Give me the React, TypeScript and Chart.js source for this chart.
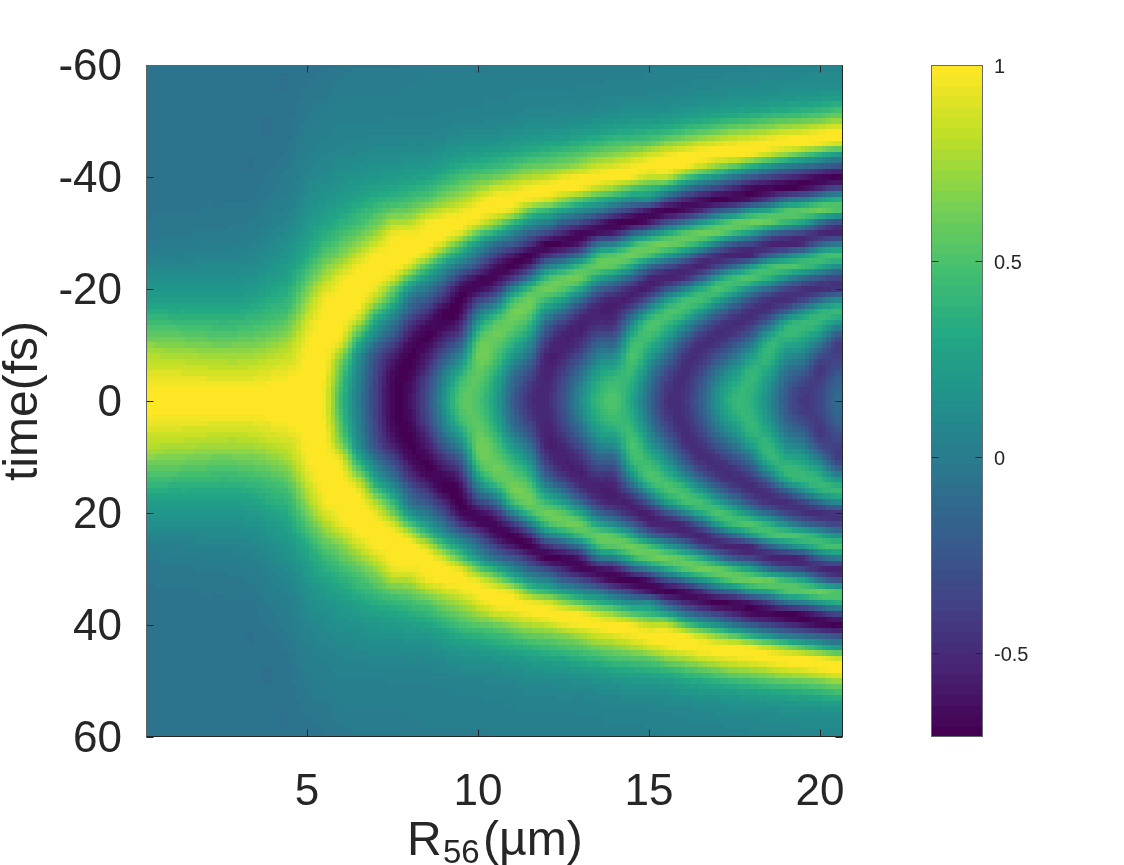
import React, { useEffect, useRef } from "react";
import Chart from "chart.js/auto";

const FONT = "'Liberation Sans', Arial, sans-serif";
const INK = "#262626";

const r56Values = [0.5,1,1.5,2,2.5,3,3.5,4,4.5,5,5.5,6,6.5,7,7.5,8,8.5,9,9.5,10,10.5,11,11.5,12,12.5,13,13.5,14,14.5,15,15.5,16,16.5,17,17.5,18,18.5,19,19.5,20,20.5];
const timeOffsets = [0,2,4,6,8,10,12,14,16,18,20,22,24,26,28,30,32,34,36,38,40,42,44,46,48,50,52,54,56,58,60];
const xTicks = [5, 10, 15, 20];
const yTicks = [-60, -40, -20, 0, 20, 40, 60];
const colorbarTicks = [1, 0.5, 0, -0.5];
const viridisStops = ["#440154","#482475","#414487","#355f8d","#2a788e","#21918c","#22a884","#44bf70","#7ad151","#bddf26","#fde725"];

// one profile per R56 column, read at |t| = 0, 2, ... 60 fs (the picture is mirrored about t = 0)
const profiles = [
[1,1,.93,.86,.79,.68,.56,.45,.34,.24,.18,.12,.07,.02,-.01,-.03,-.04,-.05,-.06,-.07,-.07,-.07,-.07,-.07,-.07,-.07,-.07,-.07,-.07,-.07,-.07],
[1,1,.93,.86,.78,.67,.55,.44,.33,.24,.18,.12,.08,.03,0,-.02,-.03,-.05,-.06,-.07,-.07,-.07,-.07,-.07,-.07,-.07,-.07,-.07,-.07,-.07,-.07],
[1,1,.93,.85,.77,.65,.54,.43,.33,.24,.18,.13,.08,.04,0,-.02,-.03,-.05,-.06,-.07,-.07,-.07,-.07,-.07,-.07,-.07,-.07,-.07,-.07,-.07,-.07],
[1,1,.92,.84,.75,.63,.52,.42,.32,.24,.18,.13,.09,.05,.01,-.01,-.03,-.04,-.05,-.06,-.07,-.07,-.07,-.07,-.07,-.07,-.07,-.07,-.07,-.07,-.07],
[1,1,.91,.83,.74,.62,.51,.41,.32,.25,.18,.13,.09,.05,.02,-.01,-.03,-.04,-.05,-.06,-.07,-.07,-.07,-.07,-.07,-.07,-.07,-.07,-.07,-.07,-.07],
[1,1,.91,.83,.74,.63,.52,.42,.33,.25,.19,.14,.1,.06,.02,0,-.02,-.03,-.05,-.06,-.07,-.07,-.07,-.07,-.07,-.07,-.07,-.07,-.07,-.07,-.07],
[1,1,.92,.85,.76,.65,.55,.45,.36,.28,.21,.16,.12,.08,.05,.02,-.01,-.02,-.04,-.05,-.06,-.07,-.07,-.07,-.07,-.07,-.07,-.07,-.07,-.07,-.07],
[1,1,.95,.89,.81,.71,.6,.5,.42,.35,.28,.22,.17,.13,.1,.07,.04,.02,0,-.02,-.03,-.05,-.06,-.06,-.07,-.07,-.07,-.07,-.07,-.07,-.07],
[1,1,.98,.92,.86,.8,.7,.6,.5,.42,.36,.3,.24,.19,.15,.11,.08,.05,.03,.01,0,-.01,-.03,-.04,-.05,-.05,-.06,-.06,-.07,-.07,-.07],
[1,1,1,1,.99,.97,.93,.88,.8,.72,.63,.52,.42,.33,.27,.22,.18,.15,.12,.09,.07,.05,.03,.02,.01,-.01,-.02,-.03,-.04,-.05,-.06],
[.95,.96,.98,1,1,1,1,1,.98,.95,.88,.76,.64,.52,.42,.34,.27,.21,.16,.13,.1,.08,.06,.04,.03,.01,0,-.02,-.03,-.04,-.05],
[.42,.45,.5,.56,.68,.87,.96,1,1,1,.98,.93,.8,.66,.55,.44,.36,.28,.22,.17,.14,.11,.08,.06,.05,.03,.02,.01,0,-.02,-.03],
[0,.01,.04,.08,.14,.3,.52,.76,.94,1,1,1,.96,.84,.7,.57,.46,.37,.28,.22,.16,.12,.09,.07,.05,.03,.02,.01,0,-.01,-.02],
[-.38,-.38,-.36,-.33,-.27,-.1,.1,.28,.5,.78,.92,1,1,.98,.86,.72,.58,.46,.35,.26,.19,.15,.11,.08,.05,.03,.02,.01,0,-.01,-.02],
[-.68,-.68,-.66,-.62,-.55,-.38,-.2,-.02,.18,.42,.62,.88,1,1,.98,.92,.76,.56,.4,.29,.21,.15,.11,.08,.06,.04,.02,.01,0,-.01,-.02],
[-.62,-.64,-.67,-.7,-.7,-.66,-.55,-.4,-.2,-.05,.17,.5,.85,1,1,.96,.8,.6,.46,.34,.25,.18,.13,.09,.06,.04,.03,.02,.01,0,-.01],
[-.3,-.32,-.38,-.48,-.58,-.66,-.7,-.62,-.43,-.25,-.03,.2,.5,.85,1,.98,.95,.74,.54,.39,.28,.19,.13,.09,.06,.04,.03,.02,.01,.01,0],
[.15,.12,.04,-.08,-.24,-.42,-.58,-.68,-.7,-.5,-.32,-.07,.18,.5,.85,1,.99,.85,.66,.5,.36,.24,.17,.11,.07,.05,.03,.02,.01,.01,0],
[.53,.5,.42,.27,.08,-.13,-.34,-.52,-.64,-.7,-.66,-.43,-.08,.22,.52,.9,1,.93,.76,.62,.47,.33,.21,.14,.09,.06,.04,.02,.01,.01,0],
[.5,.52,.55,.58,.6,.55,.4,.18,-.08,-.38,-.64,-.64,-.32,-.06,.2,.58,.92,1,.9,.72,.54,.37,.24,.16,.1,.06,.04,.03,.02,.01,0],
[.25,.27,.33,.42,.5,.56,.6,.52,.26,-.12,-.47,-.67,-.62,-.36,-.08,.34,.72,.98,1,.84,.6,.42,.28,.17,.11,.07,.05,.03,.02,.01,.01],
[-.18,-.15,-.08,.04,.2,.36,.5,.58,.6,.43,.03,-.43,-.69,-.58,-.22,.08,.45,.9,1,.9,.7,.48,.33,.2,.13,.08,.05,.04,.03,.02,.01],
[-.47,-.44,-.36,-.24,-.08,.08,.26,.43,.56,.6,.43,-.02,-.49,-.7,-.46,-.16,.18,.58,.95,.97,.78,.57,.38,.24,.15,.1,.07,.05,.03,.02,.01],
[-.5,-.51,-.53,-.55,-.53,-.44,-.3,-.1,.15,.42,.6,.43,0,-.48,-.7,-.32,.04,.42,.88,1,.82,.6,.43,.28,.17,.11,.07,.05,.03,.02,.01],
[-.27,-.29,-.34,-.42,-.5,-.55,-.53,-.38,-.1,.22,.52,.59,.2,-.3,-.68,-.52,-.18,.26,.7,1,.92,.66,.48,.3,.18,.11,.08,.05,.03,.02,.01],
[.12,.08,-.02,-.15,-.3,-.44,-.53,-.55,-.42,-.12,.28,.58,.45,-.05,-.55,-.68,-.32,.1,.52,.96,.98,.74,.54,.37,.22,.13,.08,.05,.04,.02,.02],
[.42,.38,.3,.18,.02,-.16,-.34,-.5,-.55,-.44,-.14,.28,.58,.42,-.08,-.62,-.52,-.02,.38,.82,1,.84,.62,.42,.25,.15,.09,.06,.04,.03,.02],
[.5,.48,.42,.3,.13,-.08,-.28,-.45,-.53,-.54,-.32,.08,.52,.54,.05,-.55,-.68,-.22,.25,.7,1,.9,.68,.48,.3,.17,.11,.07,.05,.03,.02],
[.28,.31,.38,.46,.5,.45,.3,.06,-.24,-.52,-.52,-.2,.28,.6,.38,-.22,-.7,-.4,.1,.54,.96,.96,.76,.52,.33,.2,.12,.07,.05,.03,.03],
[-.12,-.09,-.01,.1,.24,.38,.48,.49,.2,-.22,-.54,-.5,-.1,.48,.57,.04,-.6,-.6,.1,.42,.82,1,.85,.56,.36,.2,.12,.08,.05,.04,.03],
[-.45,-.43,-.36,-.24,-.08,.1,.28,.45,.48,.2,-.28,-.55,-.3,.25,.6,.28,-.32,-.7,-.25,.28,.82,1,.93,.68,.4,.24,.14,.09,.06,.05,.04],
[-.46,-.47,-.48,-.48,-.42,-.28,-.06,.22,.46,.44,.02,-.48,-.46,.02,.52,.5,-.1,-.66,-.48,0,.55,.98,.99,.75,.48,.28,.17,.1,.07,.05,.04],
[-.2,-.23,-.3,-.39,-.46,-.48,-.37,-.12,.2,.47,.32,-.2,-.54,-.3,.34,.6,.15,-.5,-.62,-.2,.32,.85,1,.84,.55,.33,.2,.12,.08,.06,.05],
[.16,.13,.03,-.1,-.27,-.42,-.48,-.38,-.1,.26,.5,.22,-.36,-.48,.02,.58,.38,-.25,-.7,-.35,.15,.7,1,.9,.62,.38,.22,.13,.09,.06,.05],
[.4,.37,.27,.13,-.05,-.25,-.42,-.48,-.34,-.02,.36,.45,-.1,-.55,-.25,.42,.55,-.1,-.66,-.5,-.05,.55,1,.94,.7,.43,.25,.15,.1,.07,.05],
[.37,.39,.42,.38,.24,.02,-.22,-.42,-.48,-.3,.1,.5,.2,-.5,-.36,.22,.6,.18,-.58,-.66,-.22,.35,.95,.97,.74,.47,.27,.16,.1,.07,.06],
[.1,.13,.2,.31,.41,.41,.2,-.15,-.42,-.46,-.14,.36,.45,-.2,-.52,-.08,.58,.3,-.38,-.68,-.35,.18,.82,1,.8,.52,.3,.17,.11,.08,.06],
[-.23,-.2,-.12,0,.14,.3,.42,.3,-.18,-.48,-.34,.12,.5,.02,-.55,-.24,.42,.5,-.1,-.7,-.46,.02,.68,1,.86,.57,.33,.19,.12,.08,.06],
[-.42,-.4,-.3,-.15,.02,.2,.36,.42,.14,-.34,-.46,-.1,.46,.22,-.48,-.36,.28,.55,.02,-.66,-.58,-.08,.52,1,.9,.6,.36,.2,.12,.09,.07],
[-.34,-.36,-.41,-.42,-.3,-.07,.2,.4,.36,-.1,-.48,-.25,.32,.42,-.18,-.5,-.05,.6,.2,-.5,-.66,-.16,.36,.95,.96,.65,.4,.22,.13,.09,.07],
[-.1,-.13,-.2,-.3,-.39,-.41,-.2,.18,.42,.1,-.42,-.36,.12,.49,0,-.55,-.28,.5,.34,-.35,-.7,-.28,.22,.85,1,.72,.47,.25,.14,.1,.07],
];

const V_MIN = -0.714;
const V_MAX = 1;
const LEVELS = 64;

function hexToRgb(h: string) {
  return [1, 3, 5].map((i) => parseInt(h.slice(i, i + 2), 16));
}
const palette: number[][] = Array.from({ length: LEVELS }, (_, i) => {
  const f = (i / (LEVELS - 1)) * (viridisStops.length - 1);
  const a = Math.min(Math.floor(f), viridisStops.length - 2);
  const u = f - a;
  const p = hexToRgb(viridisStops[a]);
  const q = hexToRgb(viridisStops[a + 1]);
  return p.map((c, k) => Math.round(c + (q[k] - c) * u));
});

const timeValues = [...timeOffsets.slice(1).reverse().map((t) => -t), ...timeOffsets];
const cells = r56Values.flatMap((r, c) =>
  timeValues.map((t) => ({ x: r, y: t, v: profiles[c][Math.abs(t) / 2] }))
);

function level(v: number) {
  const i = Math.floor(((v - V_MIN) / (V_MAX - V_MIN)) * LEVELS);
  return Math.max(0, Math.min(LEVELS - 1, i));
}

// Catmull-Rom weights for the canvas shading between table cells
function weights(u: number) {
  const u2 = u * u;
  const u3 = u2 * u;
  return [
    0.5 * (-u3 + 2 * u2 - u),
    0.5 * (3 * u3 - 5 * u2 + 2),
    0.5 * (-3 * u3 + 4 * u2 + u),
    0.5 * (u3 - u2),
  ];
}

// paints the table with smooth shading between its cells, placed through the chart's scales
const heatmapPlugin = {
  id: "heatmap",
  beforeDatasetsDraw(chart: any) {
    const { ctx, chartArea: a, scales } = chart;
    const w = Math.round(a.right - a.left);
    const h = Math.round(a.bottom - a.top);
    const off = document.createElement("canvas");
    off.width = w;
    off.height = h;
    const octx = off.getContext("2d")!;
    const img = octx.createImageData(w, h);
    const data = chart.data.datasets[0].data;
    const nR = r56Values.length;
    const nT = timeValues.length;
    const r0 = r56Values[0];
    const dr = r56Values[1] - r56Values[0];
    const t0 = timeValues[0];
    const dt = timeValues[1] - timeValues[0];
    const clampI = (i: number, n: number) => Math.max(0, Math.min(n - 1, i));
    for (let py = 0; py < h; py++) {
      const t = Math.round(scales.y.getValueForPixel(a.top + py + 0.5));
      const ft = Math.max(0, Math.min(nT - 1.001, (t - t0) / dt));
      const it = Math.floor(ft);
      const wt = weights(ft - it);
      for (let px = 0; px < w; px++) {
        const r = Math.round(scales.x.getValueForPixel(a.left + px + 0.5) * 8) / 8;
        const fr = Math.max(0, Math.min(nR - 1.001, (r - r0) / dr));
        const ir = Math.floor(fr);
        const wr = weights(fr - ir);
        let v = 0;
        for (let i = 0; i < 4; i++) {
          const col = clampI(ir + i - 1, nR);
          for (let j = 0; j < 4; j++) {
            v += wr[i] * wt[j] * data[col * nT + clampI(it + j - 1, nT)].v;
          }
        }
        const rgb = palette[level(v)];
        const o = (py * w + px) * 4;
        img.data[o] = rgb[0];
        img.data[o + 1] = rgb[1];
        img.data[o + 2] = rgb[2];
        img.data[o + 3] = 255;
      }
    }
    octx.putImageData(img, 0, 0);
    ctx.drawImage(off, a.left, a.top);
  },
};

function line(ctx: any, x1: number, y1: number, x2: number, y2: number) {
  ctx.beginPath();
  ctx.moveTo(x1, y1);
  ctx.lineTo(x2, y2);
  ctx.stroke();
}

const frameAxisPlugin = {
  id: "frameAxis",
  afterDraw(chart: any) {
    const { ctx, chartArea: a, scales } = chart;
    const L = Math.round(a.left) + 0.5;
    const R = Math.round(a.right) - 0.5;
    const T = Math.round(a.top) + 0.5;
    const B = Math.round(a.bottom) - 0.5;
    ctx.save();
    ctx.lineWidth = 1;
    ctx.strokeStyle = INK;
    xTicks.forEach((v) => {
      const x = Math.round(scales.x.getPixelForValue(v)) + 0.5;
      line(ctx, x, T, x, T + 7);
      line(ctx, x, B, x, B - 7);
    });
    yTicks.forEach((v) => {
      const y = Math.round(scales.y.getPixelForValue(v)) + 0.5;
      line(ctx, L, y, L + 7, y);
      line(ctx, R, y, R - 7, y);
    });
    ctx.strokeStyle = "#5f6367";
    line(ctx, L, T, R, T);
    line(ctx, L, T, L, B);
    ctx.strokeStyle = INK;
    line(ctx, R, T, R, B);
    line(ctx, L, B, R, B);

    // x-axis title with a true subscript
    ctx.fillStyle = INK;
    ctx.textBaseline = "alphabetic";
    ctx.textAlign = "left";
    ctx.font = `48px ${FONT}`;
    ctx.fillText("R", 407, 855);
    ctx.fillText("(µm)", 483, 855);
    ctx.font = `33px ${FONT}`;
    ctx.fillText("56", 443, 863);
    ctx.restore();
  },
};

const colorbarFramePlugin = {
  id: "colorbarFrame",
  afterDraw(chart: any) {
    const { ctx, chartArea: a, scales } = chart;
    const L = Math.round(a.left) + 0.5;
    const R = Math.round(a.right) - 0.5;
    const T = Math.round(a.top) + 0.5;
    const B = Math.round(a.bottom) - 0.5;
    ctx.save();
    ctx.lineWidth = 1;
    ctx.strokeStyle = INK;
    colorbarTicks.forEach((v) => {
      const y = Math.round(scales.y.getPixelForValue(v)) + 0.5;
      line(ctx, L, y, L + 7, y);
      line(ctx, R, y, R - 7, y);
    });
    ctx.strokeStyle = "#666a6e";
    ctx.strokeRect(L, T, R - L, B - T);
    ctx.restore();
  },
};

export default function App() {
  const mainRef = useRef<HTMLCanvasElement>(null);
  const barRef = useRef<HTMLCanvasElement>(null);

  useEffect(() => {
    const main = new Chart(mainRef.current!, {
      type: "scatter",
      data: { datasets: [{ label: "signal", data: cells as any, pointRadius: 0, pointHoverRadius: 0 }] },
      plugins: [heatmapPlugin, frameAxisPlugin],
      options: {
        animation: false,
        responsive: false,
        devicePixelRatio: 1,
        events: [],
        layout: { padding: { top: 65, right: 281, left: 0, bottom: 0 } },
        plugins: { legend: { display: false }, tooltip: { enabled: false } },
        scales: {
          x: {
            type: "linear",
            min: 0.29,
            max: 20.67,
            afterBuildTicks: (s: any) => { s.ticks = xTicks.map((value) => ({ value })); },
            afterFit: (s: any) => { s.height = 128; },
            grid: { display: false, drawTicks: false },
            border: { display: false },
            ticks: { color: INK, padding: 29, maxRotation: 0, autoSkip: false, font: { family: FONT, size: 44 } },
          },
          y: {
            type: "linear",
            reverse: true,
            min: -60,
            max: 60,
            afterBuildTicks: (s: any) => { s.ticks = yTicks.map((value) => ({ value })); },
            afterFit: (s: any) => { s.width = 146; },
            grid: { display: false, drawTicks: false },
            border: { display: false },
            ticks: { color: INK, padding: 24, labelOffset: 3, autoSkip: false, font: { family: FONT, size: 44 } },
            title: {
              display: true,
              text: "time(fs)",
              color: INK,
              padding: { top: 0, bottom: 0 },
              font: { family: FONT, size: 48, lineHeight: 1 },
            },
          },
        },
      },
    } as any);

    const step = (V_MAX - V_MIN) / LEVELS;
    const bar = new Chart(barRef.current!, {
      type: "bar",
      data: {
        labels: ["colorbar"],
        datasets: [{
          label: "colormap",
          data: palette.map((_, i) => ({ x: "colorbar", y: [V_MIN + i * step, V_MIN + (i + 1) * step + 0.003] })) as any,
          backgroundColor: palette.map((c) => `rgb(${c[0]},${c[1]},${c[2]})`),
          borderWidth: 0,
          barPercentage: 1,
          categoryPercentage: 1,
        }],
      },
      plugins: [colorbarFramePlugin],
      options: {
        animation: false,
        responsive: false,
        devicePixelRatio: 1,
        events: [],
        layout: { padding: { top: 65, left: 31, right: 0, bottom: 128 } },
        plugins: { legend: { display: false }, tooltip: { enabled: false } },
        scales: {
          x: { display: false, type: "category", grid: { display: false } },
          y: {
            type: "linear",
            position: "right",
            min: V_MIN,
            max: V_MAX,
            afterBuildTicks: (s: any) => { s.ticks = colorbarTicks.map((value) => ({ value })); },
            afterFit: (s: any) => { s.width = 141; },
            grid: { display: false, drawTicks: false },
            border: { display: false },
            ticks: { color: INK, padding: 11, labelOffset: 2, autoSkip: false, font: { family: FONT, size: 20 }, callback: (v: any) => String(v) },
          },
        },
      },
    } as any);

    return () => {
      main.destroy();
      bar.destroy();
    };
  }, []);

  return (
    <div style={{ position: "fixed", left: 0, top: 0, width: 1124, height: 865, background: "#fff", overflow: "hidden" }}>
      <canvas ref={mainRef} width={1124} height={865} style={{ position: "absolute", left: 0, top: 0, display: "block" }} />
      <canvas ref={barRef} width={224} height={865} style={{ position: "absolute", left: 900, top: 0, display: "block" }} />
    </div>
  );
}
